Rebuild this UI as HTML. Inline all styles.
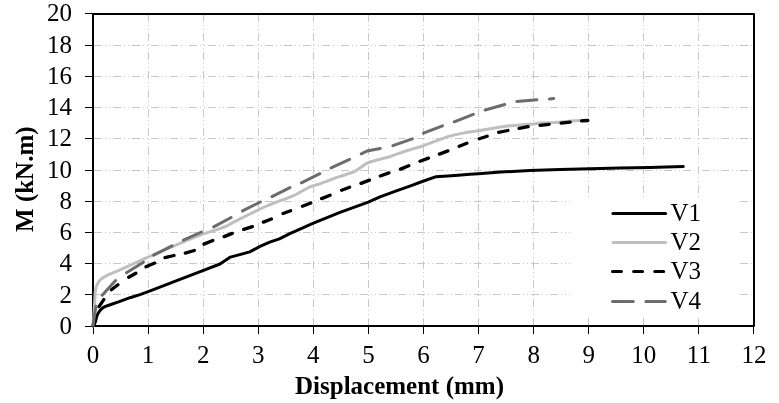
<!DOCTYPE html>
<html><head><meta charset="utf-8"><style>
html,body{margin:0;padding:0;background:#fff;}
svg{display:block;will-change:transform;}
text{font-family:"Liberation Serif",serif;font-size:25px;fill:#000;}
</style></head><body>
<svg width="779" height="403" viewBox="0 0 779 403">
<rect width="779" height="403" fill="#fff"/>
<g stroke="#c8c8c8" stroke-width="1" stroke-dasharray="8 3 1 3 1 3">
<line x1="94" y1="294.5" x2="753" y2="294.5"/><line x1="94" y1="263.5" x2="753" y2="263.5"/><line x1="94" y1="232.5" x2="753" y2="232.5"/><line x1="94" y1="201.5" x2="753" y2="201.5"/><line x1="94" y1="170.5" x2="753" y2="170.5"/><line x1="94" y1="138.5" x2="753" y2="138.5"/><line x1="94" y1="107.5" x2="753" y2="107.5"/><line x1="94" y1="76.5" x2="753" y2="76.5"/><line x1="94" y1="45.5" x2="753" y2="45.5"/>
<line x1="148.5" y1="326" x2="148.5" y2="15"/><line x1="203.5" y1="326" x2="203.5" y2="15"/><line x1="258.5" y1="326" x2="258.5" y2="15"/><line x1="313.5" y1="326" x2="313.5" y2="15"/><line x1="368.5" y1="326" x2="368.5" y2="15"/><line x1="423.5" y1="326" x2="423.5" y2="15"/><line x1="478.5" y1="326" x2="478.5" y2="15"/><line x1="533.5" y1="326" x2="533.5" y2="15"/><line x1="588.5" y1="326" x2="588.5" y2="15"/><line x1="643.5" y1="326" x2="643.5" y2="15"/><line x1="698.5" y1="326" x2="698.5" y2="15"/>
</g>
<g stroke="#000" stroke-width="1"><line x1="85" y1="326.5" x2="93" y2="326.5"/><line x1="85" y1="294.5" x2="93" y2="294.5"/><line x1="85" y1="263.5" x2="93" y2="263.5"/><line x1="85" y1="232.5" x2="93" y2="232.5"/><line x1="85" y1="201.5" x2="93" y2="201.5"/><line x1="85" y1="170.5" x2="93" y2="170.5"/><line x1="85" y1="138.5" x2="93" y2="138.5"/><line x1="85" y1="107.5" x2="93" y2="107.5"/><line x1="85" y1="76.5" x2="93" y2="76.5"/><line x1="85" y1="45.5" x2="93" y2="45.5"/><line x1="85" y1="13.5" x2="93" y2="13.5"/><line x1="93.5" y1="326" x2="93.5" y2="334"/><line x1="148.5" y1="326" x2="148.5" y2="334"/><line x1="203.5" y1="326" x2="203.5" y2="334"/><line x1="258.5" y1="326" x2="258.5" y2="334"/><line x1="313.5" y1="326" x2="313.5" y2="334"/><line x1="368.5" y1="326" x2="368.5" y2="334"/><line x1="423.5" y1="326" x2="423.5" y2="334"/><line x1="478.5" y1="326" x2="478.5" y2="334"/><line x1="533.5" y1="326" x2="533.5" y2="334"/><line x1="588.5" y1="326" x2="588.5" y2="334"/><line x1="643.5" y1="326" x2="643.5" y2="334"/><line x1="698.5" y1="326" x2="698.5" y2="334"/><line x1="753.5" y1="326" x2="753.5" y2="334"/></g>
<rect x="93" y="14" width="661" height="312" fill="none" stroke="#000" stroke-width="2" stroke-linejoin="round"/>
<path d="M93.0,326.0 L94.5,324.0 L95.5,321.4 L96.3,318.1 L97.5,314.3 L100.1,310.4 L103.0,307.6 L105.5,306.4 L108.0,305.5 L120.0,301.3 L130.0,297.7 L140.0,294.6 L148.2,291.6 L180.0,279.4 L203.5,270.3 L220.0,264.0 L230.4,257.1 L249.8,251.9 L260.0,246.4 L269.7,242.1 L279.4,238.8 L289.8,233.6 L300.0,229.1 L313.4,223.2 L340.0,212.4 L368.3,202.1 L380.0,196.8 L397.0,190.6 L409.9,186.1 L423.6,181.0 L436.2,176.7 L455.0,175.4 L470.0,174.2 L478.5,173.7 L500.8,172.1 L530.0,170.5 L560.0,169.4 L590.0,168.7 L620.0,167.9 L650.0,167.4 L683.2,166.6" stroke="#000" stroke-width="3" fill="none" stroke-linecap="round" stroke-linejoin="round"/><path d="M93.0,326.0 L93.8,318.0 L94.3,308.0 L94.8,300.0 L95.2,291.8 L96.4,286.3 L98.7,281.5 L101.9,278.4 L105.9,276.1 L108.0,274.9 L118.4,270.6 L130.0,265.3 L147.9,257.1 L178.2,244.1 L190.0,239.0 L203.4,233.9 L216.8,229.6 L225.7,226.5 L234.6,221.6 L243.6,217.1 L250.0,214.0 L258.9,209.5 L267.9,205.5 L276.8,201.9 L285.7,198.8 L294.6,195.2 L303.6,190.3 L310.0,186.7 L318.9,184.1 L327.9,180.9 L336.8,177.4 L345.7,174.7 L354.6,171.6 L360.0,168.0 L365.4,164.0 L370.0,162.0 L378.9,159.5 L387.9,157.3 L396.8,154.2 L405.7,151.0 L414.6,148.4 L423.6,145.7 L430.0,143.2 L438.9,139.8 L447.9,136.6 L456.8,134.4 L465.7,132.6 L478.5,130.8 L490.0,128.8 L498.9,127.3 L507.9,125.9 L516.8,125.2 L525.7,124.6 L533.5,124.0 L543.6,122.8 L554.7,122.6 L574.8,120.7 L579.2,120.5 L587.5,120.3" stroke="#bfbfbf" stroke-width="3" fill="none" stroke-linecap="round" stroke-linejoin="round"/><path d="M93.2,325.3 L95.3,316.7 M99.0,306.6 L103.8,299.6 M111.4,289.8 L117.9,284.7 M128.7,277.3 L135.9,273.2 M146.0,266.8 L154.7,263.1 M165.0,257.6 L174.0,255.5 M185.3,253.1 L194.3,250.5 M204.0,244.1 L212.8,240.5 M224.1,236.6 L232.3,233.4 M243.7,229.4 L252.4,226.6 M263.4,222.1 L271.4,219.0 M283.0,213.5 L290.6,210.7 M302.4,206.2 L310.8,203.0 M321.6,198.6 L330.1,195.3 M341.6,190.2 L349.6,187.3 M361.0,183.4 L369.5,180.1 M380.3,176.0 L388.9,172.9 M400.5,169.1 L408.8,165.7 M420.0,161.2 L428.5,158.1 M439.4,154.1 L447.9,150.9 M459.2,146.3 L466.9,143.3 M479.3,138.7 L487.2,136.2 M498.6,132.3 L507.9,130.5 M519.1,128.4 L528.1,126.7 M540.1,125.3 L549.1,124.3 M561.1,123.1 L570.1,122.2 M581.6,120.9 L587.9,120.5" stroke="#000" stroke-width="3.3" fill="none" stroke-linecap="round"/><path d="M93.1,325.0 L95.9,306.2 M102.2,295.2 L115.6,280.5 M126.5,272.7 L143.4,262.2 M153.7,255.2 L172.0,245.9 M183.4,240.1 L201.5,232.0 M213.7,226.9 L231.1,217.5 M242.5,210.9 L260.3,202.0 M272.0,196.6 L289.9,187.6 M301.4,182.8 L319.8,173.7 M331.1,167.9 L349.6,159.4 M361.3,153.8 L367.2,150.9 L380.2,148.5 M392.9,145.7 L412.3,138.8 M423.5,133.1 L442.5,125.9 M454.2,121.8 L473.3,114.3 M485.2,110.0 L504.7,104.5 M516.8,101.4 L536.8,99.8 M549.4,98.9 L553.6,98.6" stroke="#6f6b6b" stroke-width="3" fill="none" stroke-linecap="round"/>
<rect x="570" y="197" width="170" height="120" fill="#fff"/>
<g stroke-linecap="round">
<line x1="613" y1="213.5" x2="665.5" y2="213.5" stroke="#000" stroke-width="3.2"/>
<line x1="613" y1="242.5" x2="665.5" y2="242.5" stroke="#bfbfbf" stroke-width="3"/>
<line x1="612.6" y1="271.5" x2="663.7" y2="271.5" stroke="#000" stroke-width="3.2" stroke-dasharray="8.8 12.3"/>
<line x1="612.5" y1="301.5" x2="665.3" y2="301.5" stroke="#6f6b6b" stroke-width="3" stroke-dasharray="20.8 12.6"/>
</g>
<text x="670.5" y="220.7">V1</text>
<text x="670.5" y="249.7">V2</text>
<text x="670.5" y="278.7">V3</text>
<text x="670.5" y="308.6">V4</text>
<text x="72" y="334.4" text-anchor="end">0</text><text x="72" y="302.9" text-anchor="end">2</text><text x="72" y="271.0" text-anchor="end">4</text><text x="72" y="239.8" text-anchor="end">6</text><text x="72" y="208.6" text-anchor="end">8</text><text x="72" y="178.4" text-anchor="end">10</text><text x="72" y="146.2" text-anchor="end">12</text><text x="72" y="115.0" text-anchor="end">14</text><text x="72" y="83.8" text-anchor="end">16</text><text x="72" y="52.6" text-anchor="end">18</text><text x="72" y="21.4" text-anchor="end">20</text>
<text x="93.0" y="363.3" text-anchor="middle">0</text><text x="148.1" y="363.3" text-anchor="middle">1</text><text x="203.2" y="363.3" text-anchor="middle">2</text><text x="258.2" y="363.3" text-anchor="middle">3</text><text x="313.3" y="363.3" text-anchor="middle">4</text><text x="368.4" y="363.3" text-anchor="middle">5</text><text x="423.5" y="363.3" text-anchor="middle">6</text><text x="478.6" y="363.3" text-anchor="middle">7</text><text x="533.7" y="363.3" text-anchor="middle">8</text><text x="588.7" y="363.3" text-anchor="middle">9</text><text x="643.8" y="363.3" text-anchor="middle">10</text><text x="698.9" y="363.3" text-anchor="middle">11</text><text x="754.0" y="363.3" text-anchor="middle">12</text>
<text x="399.5" y="394" text-anchor="middle" font-weight="bold">Displacement (mm)</text>
<text transform="translate(33.3,179.2) rotate(-90)" x="0" y="0" text-anchor="middle" font-weight="bold">M (kN.m)</text>
</svg>
</body></html>
